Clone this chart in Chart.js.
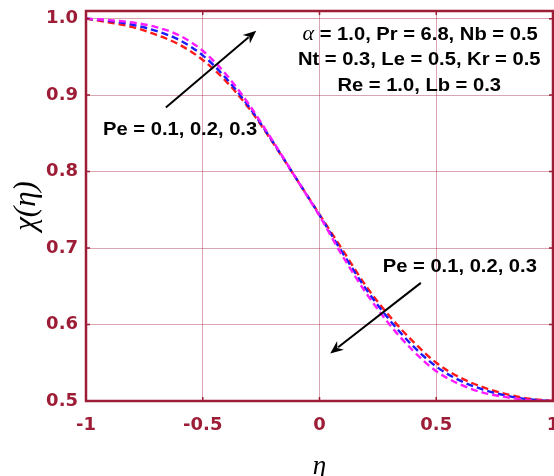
<!DOCTYPE html>
<html>
<head>
<meta charset="utf-8">
<script src="https://cdn.jsdelivr.net/npm/chart.js@4/dist/chart.umd.min.js"></script>
<style>
  html, body { margin: 0; padding: 0; background: #ffffff; }
  #wrap { width: 554px; height: 476px; position: relative; }
</style>
</head>
<body>
<div id="wrap"><canvas id="c"></canvas></div>
<script>
// Similarity variable eta across the channel
const eta = [-1.0, -0.9, -0.8, -0.7, -0.6, -0.5, -0.4, -0.3, -0.2, -0.1, 0.0,
              0.1,  0.2,  0.3,  0.4,  0.5,  0.6,  0.7,  0.8,  0.9, 1.0];

// Microorganism concentration chi(eta) for three Peclet numbers
const chiPe01 = [1.000, 0.995, 0.989, 0.979, 0.966, 0.946, 0.918, 0.882, 0.838, 0.791, 0.744,
                 0.697, 0.650, 0.611, 0.578, 0.550, 0.531, 0.518, 0.509, 0.503, 0.500];
const chiPe02 = [1.000, 0.997, 0.992, 0.984, 0.972, 0.952, 0.922, 0.884, 0.839, 0.791, 0.743,
                 0.693, 0.646, 0.606, 0.572, 0.545, 0.527, 0.515, 0.507, 0.502, 0.500];
const chiPe03 = [1.000, 0.998, 0.995, 0.989, 0.978, 0.958, 0.927, 0.887, 0.840, 0.791, 0.742,
                 0.689, 0.641, 0.600, 0.566, 0.539, 0.522, 0.511, 0.505, 0.501, 0.500];

const seriesLabels = ['Pe = 0.1', 'Pe = 0.2', 'Pe = 0.3'];
const xTickLabels = ['-1', '-0.5', '0', '0.5', '1'];
const yTickLabels = ['0.5', '0.6', '0.7', '0.8', '0.9', '1.0'];

const AXIS_RED = '#9d1c36';
const GRID_RED = 'rgba(164, 40, 72, 0.42)';

const toPoints = (ys) => eta.map((x, i) => ({ x: x, y: ys[i] }));

// Text and arrow annotations placed in data coordinates
const annotations = {
  params: [
    { x: 0.431, y: 0.9719, alpha: true, text: ' = 1.0, Pr = 6.8, Nb = 0.5' },
    { x: 0.427, y: 0.9392, text: 'Nt = 0.3, Le = 0.5, Kr = 0.5' },
    { x: 0.427, y: 0.9056, text: 'Re = 1.0, Lb = 0.3' }
  ],
  labels: [
    { x: -0.597, y: 0.8477, text: 'Pe = 0.1, 0.2, 0.3' },
    { x: 0.601, y: 0.6686, text: 'Pe = 0.1, 0.2, 0.3' }
  ],
  arrows: [
    { from: [-0.658, 0.8839], to: [-0.271, 0.9841] },
    { from: [0.434, 0.6545], to: [0.046, 0.5622] }
  ]
};

const STRETCH = 1.12;

function drawStretched(ctx, text, cx, baseline, font) {
  ctx.save();
  ctx.font = font;
  const w = ctx.measureText(text).width * STRETCH;
  ctx.translate(cx - w / 2, baseline);
  ctx.scale(STRETCH, 1);
  ctx.textAlign = 'left';
  ctx.textBaseline = 'alphabetic';
  ctx.fillText(text, 0, 0);
  ctx.restore();
}

const decorPlugin = {
  id: 'decor',
  afterDraw(chart) {
    const { ctx, chartArea: a, scales } = chart;
    const xs = scales.x, ys = scales.y;
    const px = (v) => xs.getPixelForValue(v);
    const py = (v) => ys.getPixelForValue(v);

    ctx.save();
    // inward tick marks
    ctx.strokeStyle = AXIS_RED;
    ctx.lineWidth = 1.5;
    const tl = 4;
    [-0.5, 0, 0.5].forEach(v => {
      const x = px(v);
      ctx.beginPath();
      ctx.moveTo(x, a.bottom); ctx.lineTo(x, a.bottom - tl);
      ctx.moveTo(x, a.top); ctx.lineTo(x, a.top + tl);
      ctx.stroke();
    });
    [0.6, 0.7, 0.8, 0.9, 1.0].forEach(v => {
      const y = py(v);
      ctx.beginPath();
      ctx.moveTo(a.left, y); ctx.lineTo(a.left + tl, y);
      ctx.moveTo(a.right, y); ctx.lineTo(a.right - tl, y);
      ctx.stroke();
    });
    // frame
    ctx.lineWidth = 2.5;
    ctx.strokeRect(a.left, a.top, a.right - a.left, a.bottom - a.top);

    // axis titles
    ctx.fillStyle = '#000';
    ctx.font = 'italic 27px "Liberation Serif", serif';
    ctx.textAlign = 'center';
    ctx.textBaseline = 'alphabetic';
    ctx.fillText('\u03b7', (a.left + a.right) / 2, 474);

    ctx.save();
    ctx.translate(35, (a.top + a.bottom) / 2);
    ctx.rotate(-Math.PI / 2);
    ctx.font = 'italic 31px "Liberation Serif", serif';
    ctx.textAlign = 'center';
    ctx.fillText('\u03c7(\u03b7)', 0, 0);
    ctx.restore();

    // parameter block
    const boldFont = 'bold 18px "Liberation Sans", Arial, sans-serif';
    annotations.params.forEach(p => {
      const cx = px(p.x), by = py(p.y);
      if (p.alpha) {
        ctx.save();
        ctx.font = boldFont;
        const restW = ctx.measureText(p.text).width * STRETCH;
        ctx.font = 'italic 22px "Liberation Serif", serif';
        const aW = ctx.measureText('\u03b1').width;
        const left = cx - (restW + aW) / 2;
        ctx.textAlign = 'left';
        ctx.textBaseline = 'alphabetic';
        ctx.fillText('\u03b1', left, by);
        ctx.translate(left + aW, by);
        ctx.scale(STRETCH, 1);
        ctx.font = boldFont;
        ctx.fillText(p.text, 0, 0);
        ctx.restore();
      } else {
        drawStretched(ctx, p.text, cx, by, boldFont);
      }
    });
    annotations.labels.forEach(p => {
      drawStretched(ctx, p.text, px(p.x), py(p.y), boldFont);
    });

    // arrows
    ctx.strokeStyle = '#000';
    ctx.fillStyle = '#000';
    ctx.lineWidth = 2;
    annotations.arrows.forEach(ar => {
      const x0 = px(ar.from[0]), y0 = py(ar.from[1]);
      const x1 = px(ar.to[0]), y1 = py(ar.to[1]);
      const ang = Math.atan2(y1 - y0, x1 - x0);
      const hl = 13, hw = 5.5;
      const bx = x1 - hl * Math.cos(ang), by = y1 - hl * Math.sin(ang);
      ctx.beginPath();
      ctx.moveTo(x0, y0);
      ctx.lineTo(bx + 3 * Math.cos(ang), by + 3 * Math.sin(ang));
      ctx.stroke();
      ctx.beginPath();
      ctx.moveTo(x1, y1);
      ctx.lineTo(bx - hw * Math.sin(ang), by + hw * Math.cos(ang));
      ctx.lineTo(x1 - (hl - 4) * Math.cos(ang), y1 - (hl - 4) * Math.sin(ang));
      ctx.lineTo(bx + hw * Math.sin(ang), by - hw * Math.cos(ang));
      ctx.closePath();
      ctx.fill();
    });
    ctx.restore();
  }
};

const lineStyle = (color, order) => ({
  borderColor: color,
  backgroundColor: color,
  borderWidth: 2.4,
  borderDash: [7, 4],
  pointRadius: 0,
  fill: false,
  cubicInterpolationMode: 'monotone',
  order: order
});

const noEdgePadding = (s) => {
  s.paddingLeft = 0; s.paddingRight = 0;
  s.paddingTop = 0; s.paddingBottom = 0;
};

new Chart(document.getElementById('c'), {
  type: 'line',
  data: {
    datasets: [
      Object.assign({ label: seriesLabels[0], data: toPoints(chiPe01) }, lineStyle('#ff1a1a', 2)),
      Object.assign({ label: seriesLabels[1], data: toPoints(chiPe02) }, lineStyle('#1a1aff', 1)),
      Object.assign({ label: seriesLabels[2], data: toPoints(chiPe03) }, lineStyle('#ff1aff', 0))
    ]
  },
  options: {
    responsive: true,
    maintainAspectRatio: false,
    animation: false,
    layout: { padding: { top: 11, right: 1, left: 0, bottom: 0 } },
    plugins: { legend: { display: false }, tooltip: { enabled: false } },
    scales: {
      x: {
        type: 'linear',
        min: -1, max: 1,
        afterFit(s) { s.height = 75; noEdgePadding(s); },
        border: { display: false },
        grid: { color: GRID_RED, lineWidth: 1, drawTicks: false },
        ticks: {
          stepSize: 0.5,
          padding: 14,
          color: AXIS_RED,
          font: { family: '"DejaVu Sans", sans-serif', weight: 'bold', size: 18 },
          callback: (v) => xTickLabels[Math.round((v + 1) / 0.5)]
        }
      },
      y: {
        type: 'linear',
        min: 0.5, max: 1.01,
        afterFit(s) { s.width = 86; noEdgePadding(s); },
        border: { display: false },
        grid: { color: GRID_RED, lineWidth: 1, drawTicks: false },
        ticks: {
          stepSize: 0.1,
          includeBounds: false,
          padding: 8,
          color: AXIS_RED,
          font: { family: '"DejaVu Sans", sans-serif', weight: 'bold', size: 18 },
          callback: (v) => yTickLabels[Math.round((v - 0.5) / 0.1)]
        }
      }
    }
  },
  plugins: [decorPlugin]
});
</script>
</body>
</html>
